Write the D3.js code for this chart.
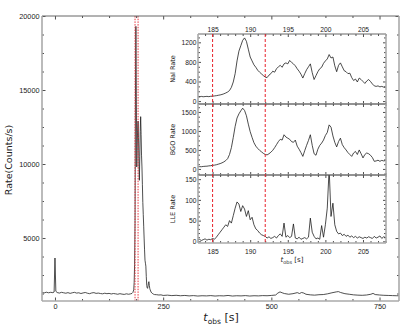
<!DOCTYPE html>
<html>
<head>
<meta charset="utf-8">
<script src="https://cdn.jsdelivr.net/npm/d3@7"></script>
<style>
  body { margin: 0; background: #fff; }
  svg { display: block; font-family: "DejaVu Sans", sans-serif; }
  .domain { display: none; }
  .tick line { stroke: #222; stroke-width: 0.8; }
  .tick text { fill: #222; }
</style>
</head>
<body>
<script>
// main light curve (t in s, rate in counts/s)
const mainT = [-30,-25,-20,-15,-10,-5,-2,0,2,5,10,15,20,25,30,35,40,45,50,55,60,65,70,75,80,85,90,95,100,105,110,115,120,125,130,135,140,145,150,155,160,165,170,175,178,180,182,183,184,185,186,187,188,189,190,191,192,193,194,195,196,197,198,199,200,201,202,203,204,205,206,207,208,209,210,211,212,213,214,215,216,217,218,219,220,222,224,226,228,230,235,240,245,250,260,270,280,290,300,310,320,330,340,350,360,370,380,390,400,410,420,430,440,450,460,470,480,490,500,510,515,520,525,530,540,550,560,565,570,575,580,590,600,610,620,630,640,650,655,660,670,680,690,700,710,720,730,735,740,750,760,770,780,790,795];
const mainRate = [1320,1290,1340,1300,1330,1310,1350,3650,1400,1320,1280,1330,1300,1270,1310,1260,1300,1330,1280,1300,1250,1290,1320,1270,1240,1290,1310,1260,1280,1250,1230,1270,1240,1260,1220,1250,1230,1200,1240,1210,1190,1230,1200,1230,1260,1320,1500,2000,3200,6000,14500,19300,14800,9800,11200,12300,12900,11800,10200,8900,10500,12200,13200,12000,10600,9800,8600,7400,6600,5800,5000,4200,3500,3300,3100,2400,1800,1650,1600,1750,1950,2050,1800,1600,1500,1350,1280,1240,1200,1180,1170,1150,1160,1120,1140,1110,1130,1100,1120,1090,1110,1080,1100,1090,1110,1080,1100,1090,1120,1080,1100,1090,1110,1080,1100,1090,1110,1100,1120,1150,1280,1360,1300,1250,1200,1240,1310,1250,1320,1280,1200,1160,1140,1170,1180,1230,1300,1360,1380,1320,1240,1200,1160,1140,1130,1150,1200,1260,1180,1150,1130,1120,1110,1100,1100];

// inset light curves
const insetT = [183,183.25,183.5,183.75,184,184.25,184.5,184.75,185,185.25,185.5,185.75,186,186.25,186.5,186.75,187,187.25,187.5,187.75,188,188.25,188.5,188.75,189,189.25,189.5,189.75,190,190.25,190.5,190.75,191,191.25,191.5,191.75,192,192.25,192.5,192.75,193,193.25,193.5,193.75,194,194.25,194.5,194.75,195,195.25,195.5,195.75,196,196.25,196.5,196.75,197,197.25,197.5,197.75,198,198.25,198.5,198.75,199,199.25,199.5,199.75,200,200.25,200.5,200.75,201,201.25,201.5,201.75,202,202.25,202.5,202.75,203,203.25,203.5,203.75,204,204.25,204.5,204.75,205,205.25,205.5,205.75,206,206.25,206.5,206.75,207,207.25,207.5,207.75,208];
const naiRate = [90,85,95,88,92,96,90,98,100,105,110,118,125,135,148,165,185,215,280,390,560,820,1020,1130,1240,1290,1220,1060,900,820,740,690,630,590,555,520,490,480,530,560,610,590,660,700,730,690,760,780,760,830,790,760,720,660,610,550,470,560,640,700,760,580,440,520,600,660,690,770,820,860,950,880,900,720,600,730,780,700,620,600,560,570,480,420,450,390,470,440,400,360,410,440,400,350,310,300,310,290,300,285,280];
const bgoRate = [55,60,58,65,70,72,80,85,95,100,110,125,140,160,185,220,270,380,560,830,1120,1340,1450,1530,1600,1540,1400,1180,980,830,690,600,540,490,450,410,380,370,400,440,490,560,640,720,780,760,900,840,810,780,720,700,760,600,520,430,330,480,620,750,900,620,400,360,520,620,680,760,880,960,1160,1100,870,700,580,720,810,640,560,500,430,380,330,420,460,380,500,400,290,380,420,400,360,300,200,210,230,200,225,210,220];
const lleRate = [3,5,2,4,6,3,5,4,7,5,10,16,22,28,34,40,36,50,44,62,80,95,90,72,86,78,60,74,52,58,40,30,26,20,16,14,12,8,11,7,9,12,8,14,18,12,44,10,14,9,12,42,8,6,10,5,7,9,6,10,56,22,12,6,8,5,38,10,40,80,175,60,92,40,24,18,20,14,17,12,15,10,13,9,12,8,11,9,7,10,8,11,9,7,12,8,10,13,7,11,9];

// ticks
const mainXTicks = [0, 250, 500, 750];
const mainXMinor = [62.5, 125, 187.5, 312.5, 375, 437.5, 562.5, 625, 687.5];
const mainYTicks = [5000, 10000, 15000, 20000];
const mainYMinor = [1250, 2500, 3750, 6250, 7500, 8750, 11250, 12500, 13750, 16250, 17500, 18750];
const insetXTicks = [185, 190, 195, 200, 205];
const insetXMinor = [184, 186, 187, 188, 189, 191, 192, 193, 194, 196, 197, 198, 199, 201, 202, 203, 204, 206, 207, 208];
const insetMarks = [185, 192];

const width = 420, height = 335;
const svg = d3.select("body").append("svg")
  .attr("width", width)
  .attr("height", height);

// ---------- main panel ----------
const m = { left: 42, right: 399, top: 16, bottom: 301 };
const x = d3.scaleLinear().domain([-30, 795]).range([m.left, m.right]);
const y = d3.scaleLinear().domain([745, 20000]).range([m.bottom, m.top]);

svg.append("defs").append("clipPath").attr("id", "clipMain")
  .append("rect").attr("x", m.left).attr("y", m.top)
  .attr("width", m.right - m.left).attr("height", m.bottom - m.top);

const mainData = mainT.map((t, i) => [t, mainRate[i]]);
svg.append("path")
  .datum(mainData)
  .attr("clip-path", "url(#clipMain)")
  .attr("fill", "none")
  .attr("stroke", "#222")
  .attr("stroke-width", 0.8)
  .attr("d", d3.line().x(d => x(d[0])).y(d => y(d[1])));

// red dotted markers
svg.selectAll(".mainMark")
  .data(insetMarks)
  .enter().append("line")
  .attr("x1", d => x(d)).attr("x2", d => x(d))
  .attr("y1", m.top).attr("y2", m.bottom)
  .attr("stroke", "#e8202a")
  .attr("stroke-width", 0.9)
  .attr("stroke-dasharray", "1.5,1.2");

function addAxes(g, xs, ys, box, o) {
  // major + minor ticks on all four sides, pointing inwards
  const fs = o.fontSize;
  if (o.bottomLabels) {
    g.append("g").attr("transform", `translate(0,${box.bottom})`)
      .call(d3.axisBottom(xs).tickValues(o.xTicks).tickSize(-o.major).tickPadding(o.bPad).tickFormat(d3.format("d")))
      .selectAll("text").style("font-size", fs + "px");
  } else {
    g.append("g").attr("transform", `translate(0,${box.bottom})`)
      .call(d3.axisBottom(xs).tickValues(o.xTicks).tickSize(-o.major).tickFormat(""));
  }
  g.append("g").attr("transform", `translate(0,${box.bottom})`)
    .call(d3.axisBottom(xs).tickValues(o.xMinor).tickSize(-o.minor).tickFormat(""));
  if (o.topLabels) {
    g.append("g").attr("transform", `translate(0,${box.top})`)
      .call(d3.axisTop(xs).tickValues(o.xTicks).tickSize(-o.major).tickPadding(o.tPad).tickFormat(d3.format("d")))
      .selectAll("text").style("font-size", fs + "px");
  } else {
    g.append("g").attr("transform", `translate(0,${box.top})`)
      .call(d3.axisTop(xs).tickValues(o.xTicks).tickSize(-o.major).tickFormat(""));
  }
  g.append("g").attr("transform", `translate(0,${box.top})`)
    .call(d3.axisTop(xs).tickValues(o.xMinor).tickSize(-o.minor).tickFormat(""));

  g.append("g").attr("transform", `translate(${box.left},0)`)
    .call(d3.axisLeft(ys).tickValues(o.yTicks).tickSize(-o.major).tickPadding(o.lPad).tickFormat(d3.format("d")))
    .selectAll("text").style("font-size", fs + "px");
  g.append("g").attr("transform", `translate(${box.left},0)`)
    .call(d3.axisLeft(ys).tickValues(o.yMinor).tickSize(-o.minor).tickFormat(""));
  g.append("g").attr("transform", `translate(${box.right},0)`)
    .call(d3.axisRight(ys).tickValues(o.yTicks).tickSize(-o.major).tickFormat(""));
  g.append("g").attr("transform", `translate(${box.right},0)`)
    .call(d3.axisRight(ys).tickValues(o.yMinor).tickSize(-o.minor).tickFormat(""));

  // spines
  g.append("line").attr("x1", box.left).attr("x2", box.right).attr("y1", box.top).attr("y2", box.top)
    .attr("stroke", "#666").attr("stroke-width", 1);
  g.append("line").attr("x1", box.left).attr("x2", box.right).attr("y1", box.bottom).attr("y2", box.bottom)
    .attr("stroke", "#aaa").attr("stroke-width", 1.6);
  g.append("line").attr("x1", box.left).attr("x2", box.left).attr("y1", box.top).attr("y2", box.bottom)
    .attr("stroke", "#aaa").attr("stroke-width", 1.6);
  g.append("line").attr("x1", box.right).attr("x2", box.right).attr("y1", box.top).attr("y2", box.bottom)
    .attr("stroke", "#aaa").attr("stroke-width", 1.6);
}

addAxes(svg.append("g"), x, y, m, {
  xTicks: mainXTicks, xMinor: mainXMinor, yTicks: mainYTicks, yMinor: mainYMinor,
  major: 3.5, minor: 2, fontSize: 7.3, bottomLabels: true, topLabels: false,
  bPad: 3, tPad: 2, lPad: 2.5
});

svg.append("text")
  .attr("transform", "translate(12,160) rotate(-90)")
  .attr("text-anchor", "middle")
  .style("font-size", "9.5px")
  .attr("fill", "#222")
  .text("Rate(Counts/s)");

const xl = svg.append("text")
  .attr("x", 221).attr("y", 321)
  .attr("text-anchor", "middle")
  .style("font-size", "11px")
  .attr("fill", "#222");
xl.append("tspan").style("font-style", "italic").text("t");
xl.append("tspan").attr("dy", 2.5).style("font-size", "7.5px").text("obs");
xl.append("tspan").attr("dy", -2.5).text(" [s]");

// ---------- inset ----------
const ix = d3.scaleLinear().domain([183.06, 208.06]).range([198, 386]);
const panels = [
  { name: "NaI Rate", data: naiRate, top: 34, bottom: 104, domain: [-60, 1370], ticks: [0, 400, 800, 1200], minorStep: [100, 200, 300, 500, 600, 700, 900, 1000, 1100, 1300] },
  { name: "BGO Rate", data: bgoRate, top: 104, bottom: 175, domain: [-160, 1710], ticks: [0, 500, 1000, 1500], minorStep: [-125, 125, 250, 375, 625, 750, 875, 1125, 1250, 1375, 1625] },
  { name: "LLE Rate", data: lleRate, top: 175, bottom: 243, domain: [-4, 160], ticks: [0, 50, 100, 150], minorStep: [10, 20, 30, 40, 60, 70, 80, 90, 110, 120, 130, 140] }
];

svg.append("rect")
  .attr("x", 198).attr("y", 34).attr("width", 386 - 198).attr("height", 243 - 34)
  .attr("fill", "#fff");

panels.forEach((p, k) => {
  const py = d3.scaleLinear().domain(p.domain).range([p.bottom, p.top]);
  const box = { left: 198, right: 386, top: p.top, bottom: p.bottom };
  const g = svg.append("g");

  g.append("clipPath").attr("id", "clipP" + k)
    .append("rect").attr("x", box.left).attr("y", box.top)
    .attr("width", box.right - box.left).attr("height", box.bottom - box.top);

  g.append("path")
    .datum(insetT.map((t, i) => [t, p.data[i]]))
    .attr("clip-path", `url(#clipP${k})`)
    .attr("fill", "none")
    .attr("stroke", "#111")
    .attr("stroke-width", 0.75)
    .attr("d", d3.line().x(d => ix(d[0])).y(d => py(d[1])));

  addAxes(g, ix, py, box, {
    xTicks: insetXTicks, xMinor: insetXMinor, yTicks: p.ticks, yMinor: p.minorStep,
    major: 3, minor: 2, fontSize: 6.7, bottomLabels: k === 2, topLabels: k === 0,
    bPad: 6, tPad: 2.5, lPad: 1.5
  });

  g.append("text")
    .attr("transform", `translate(175,${(p.top + p.bottom) / 2}) rotate(-90)`)
    .attr("text-anchor", "middle")
    .style("font-size", "6.5px")
    .attr("fill", "#222")
    .text(p.name);
});

svg.selectAll(".insetMark")
  .data(insetMarks)
  .enter().append("line")
  .attr("x1", d => ix(d)).attr("x2", d => ix(d))
  .attr("y1", 34).attr("y2", 243)
  .attr("stroke", "#e8202a")
  .attr("stroke-width", 1)
  .attr("stroke-dasharray", "3,2");

const ixl = svg.append("text")
  .attr("x", 292).attr("y", 262)
  .attr("text-anchor", "middle")
  .style("font-size", "7px")
  .attr("fill", "#222");
ixl.append("tspan").style("font-style", "italic").text("t");
ixl.append("tspan").attr("dy", 1.8).style("font-size", "5px").text("obs");
ixl.append("tspan").attr("dy", -1.8).text(" [s]");
</script>
</body>
</html>
